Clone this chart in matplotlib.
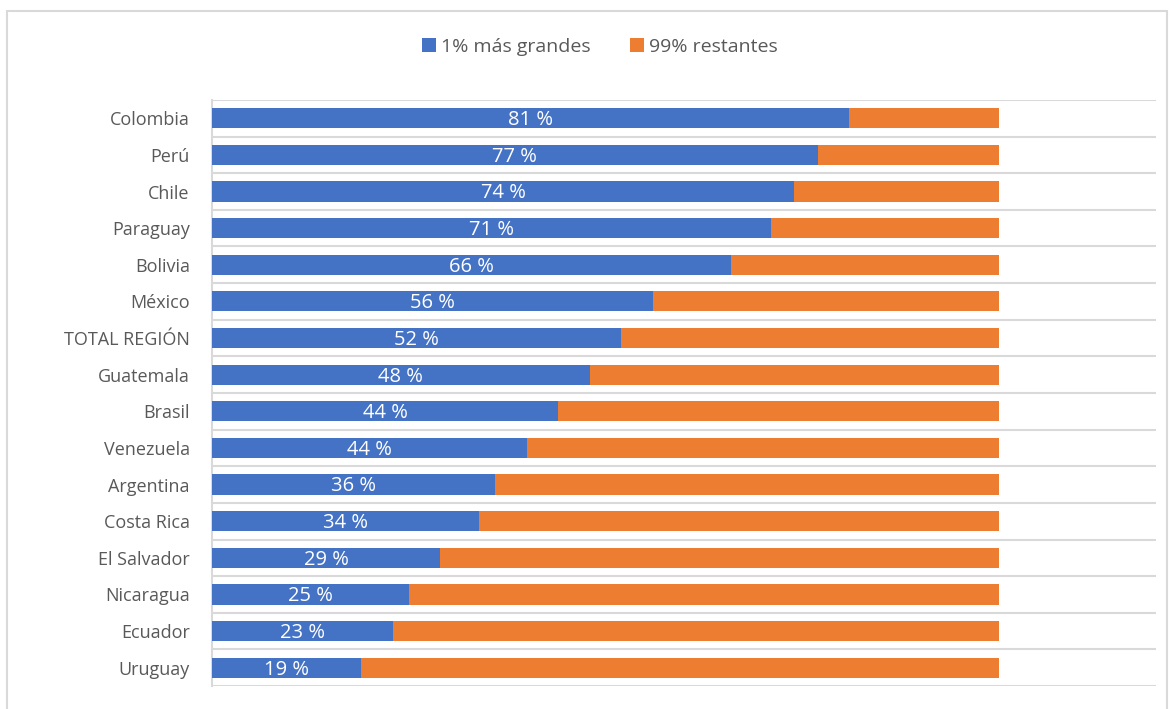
import matplotlib.pyplot as plt
import numpy as np

# data, top to bottom as in the chart
paises = ["Colombia", "Perú", "Chile", "Paraguay", "Bolivia", "México",
          "TOTAL REGIÓN", "Guatemala", "Brasil", "Venezuela", "Argentina",
          "Costa Rica", "El Salvador", "Nicaragua", "Ecuador", "Uruguay"]
top1 = [0.81, 0.77, 0.74, 0.71, 0.66, 0.56, 0.52, 0.48, 0.44, 0.40,
        0.36, 0.34, 0.29, 0.25, 0.23, 0.19]
etiquetas = ["81 %", "77 %", "74 %", "71 %", "66 %", "56 %", "52 %", "48 %",
             "44 %", "44 %", "36 %", "34 %", "29 %", "25 %", "23 %", "19 %"]
resto = [1 - v for v in top1]

azul = "#4472C4"
naranja = "#ED7D31"
gris = "#595959"

plt.rcParams["font.family"] = ["Open Sans", "DejaVu Sans"]

fig = plt.figure(figsize=(11.72, 7.09), dpi=100)
ax = fig.add_axes([0.1809, 0.0324, 0.8055, 0.8266])

y = np.arange(len(paises))
h = 0.55
b1 = ax.barh(y, top1, height=h, color=azul, label="1% más grandes", zorder=3)
ax.barh(y, resto, left=top1, height=h, color=naranja, label="99% restantes", zorder=3)

for rect, txt in zip(b1, etiquetas):
    ax.text(rect.get_x() + rect.get_width() / 2, rect.get_y() + rect.get_height() / 2 + 0.05,
            txt, ha="center", va="center", color="white", fontsize=14.5, zorder=4)

ax.set_xlim(0, 1.2)
ax.set_ylim(len(paises) - 0.5, -0.5)
ax.set_yticks(y)
ax.set_yticklabels(paises, fontsize=13, color=gris)
ax.tick_params(axis="y", length=0, pad=16)
ax.set_xticks([])

# horizontal gridlines at category boundaries
for yb in np.arange(-0.5, len(paises), 1.0):
    ax.axhline(yb, color="#D9D9D9", lw=1.5, zorder=1)

for s in ["top", "right", "bottom"]:
    ax.spines[s].set_visible(False)
ax.spines["left"].set_color("#D9D9D9")
ax.spines["left"].set_linewidth(1.5)

fig.legend(loc="center", bbox_to_anchor=(0.512, 0.934), ncol=2, frameon=False,
           fontsize=14, labelcolor=gris, handlelength=0.7, handleheight=0.7,
           handletextpad=0.3, columnspacing=2.0)

# light frame around the chart area
fig.patches.append(plt.Rectangle((0.006, -0.01), 0.99, 0.995, transform=fig.transFigure,
                                 fill=False, edgecolor="#D9D9D9", lw=1.5))

fig.savefig("out.png", dpi=100)
